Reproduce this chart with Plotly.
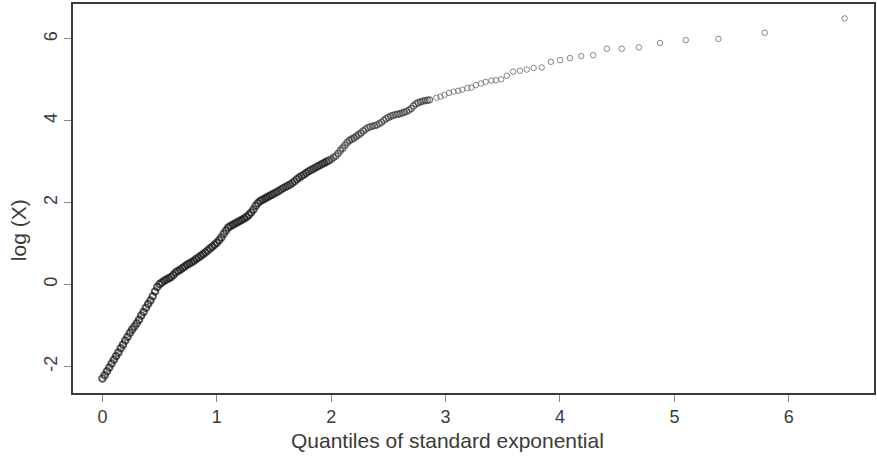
import plotly.graph_objects as go

# Quantiles of standard exponential (x) and log(X) (y)
quantiles = [
    0.00, 0.02, 0.04, 0.06, 0.08, 0.10, 0.12, 0.14, 0.16, 0.18,
    0.20, 0.22, 0.24, 0.26, 0.28, 0.30, 0.32, 0.34, 0.36, 0.38,
    0.40, 0.42, 0.44, 0.46, 0.48, 0.50, 0.52, 0.54, 0.56, 0.58,
    0.60, 0.62, 0.64, 0.66, 0.68, 0.70, 0.72, 0.74, 0.76, 0.78,
    0.80, 0.82, 0.84, 0.86, 0.88, 0.90, 0.92, 0.94, 0.96, 0.98,
    1.00, 1.02, 1.04, 1.06, 1.08, 1.10, 1.12, 1.14, 1.16, 1.18,
    1.20, 1.22, 1.24, 1.26, 1.28, 1.30, 1.32, 1.34, 1.36, 1.38,
    1.40, 1.42, 1.44, 1.46, 1.48, 1.50, 1.52, 1.54, 1.56, 1.58,
    1.60, 1.62, 1.64, 1.66, 1.68, 1.70, 1.72, 1.74, 1.76, 1.78,
    1.80, 1.82, 1.84, 1.86, 1.88, 1.90, 1.92, 1.94, 1.96, 1.98,
    2.00, 2.02, 2.04, 2.06, 2.08, 2.10, 2.12, 2.14, 2.16, 2.18,
    2.20, 2.22, 2.24, 2.26, 2.28, 2.30, 2.32, 2.34, 2.36, 2.38,
    2.40, 2.42, 2.44, 2.46, 2.48, 2.50, 2.52, 2.54, 2.56, 2.58,
    2.60, 2.62, 2.64, 2.66, 2.68, 2.70, 2.72, 2.74, 2.76, 2.78,
    2.80, 2.82, 2.84, 2.86, 2.92, 2.955, 2.99, 3.03, 3.07, 3.11,
    3.146, 3.19, 3.225, 3.265, 3.31, 3.35, 3.40, 3.44, 3.486, 3.535,
    3.59, 3.65, 3.71, 3.77, 3.84, 3.92, 4.00, 4.087, 4.186, 4.29,
    4.41, 4.54, 4.69, 4.874, 5.10, 5.385, 5.79, 6.488,
]

log_x = [
    -2.30, -2.22, -2.12, -2.03, -1.93, -1.84, -1.75, -1.66, -1.56, -1.47,
    -1.37, -1.28, -1.18, -1.10, -1.03, -0.95, -0.86, -0.76, -0.67, -0.57,
    -0.48, -0.39, -0.29, -0.17, -0.06, 0.01, 0.05, 0.09, 0.12, 0.15,
    0.18, 0.23, 0.29, 0.33, 0.36, 0.40, 0.44, 0.48, 0.51, 0.54,
    0.58, 0.62, 0.66, 0.70, 0.74, 0.78, 0.83, 0.88, 0.92, 0.97,
    1.02, 1.08, 1.15, 1.24, 1.32, 1.39, 1.43, 1.46, 1.49, 1.52,
    1.55, 1.58, 1.61, 1.65, 1.70, 1.76, 1.83, 1.92, 1.99, 2.04,
    2.07, 2.10, 2.13, 2.16, 2.19, 2.22, 2.25, 2.28, 2.32, 2.35,
    2.38, 2.41, 2.44, 2.48, 2.52, 2.57, 2.61, 2.65, 2.68, 2.72,
    2.76, 2.79, 2.82, 2.85, 2.88, 2.91, 2.94, 2.97, 3.00, 3.03,
    3.06, 3.10, 3.14, 3.20, 3.27, 3.33, 3.40, 3.47, 3.52, 3.55,
    3.58, 3.62, 3.66, 3.70, 3.75, 3.79, 3.83, 3.85, 3.87, 3.88,
    3.90, 3.93, 3.96, 4.01, 4.05, 4.08, 4.11, 4.13, 4.15, 4.16,
    4.17, 4.19, 4.21, 4.23, 4.26, 4.30, 4.36, 4.41, 4.44, 4.46,
    4.48, 4.49, 4.50, 4.51, 4.56, 4.59, 4.63, 4.68, 4.71, 4.73,
    4.76, 4.80, 4.81, 4.87, 4.91, 4.95, 4.98, 4.99, 5.01, 5.10,
    5.20, 5.22, 5.25, 5.29, 5.30, 5.44, 5.48, 5.53, 5.58, 5.60,
    5.76, 5.76, 5.79, 5.90, 5.97, 6.00, 6.15, 6.50,
]

x_ticks = [0, 1, 2, 3, 4, 5, 6]
y_ticks = [-2, 0, 2, 4, 6]

FONT = "Liberation Sans, Arial, sans-serif"

# style: in the picture the many overlapping circles of the lower quantiles
# form a dark, thick band, while the upper tail shows lighter single circles
line_w = [2.0 if q < 1.5 else (1.6 if q < 2.3 else (1.3 if q < 2.9 else 1.0)) for q in quantiles]
colors = ["#151515" if q < 2.0 else ("#3a3a3a" if q < 2.9 else "#555555") for q in quantiles]
sizes = [6.5 if q < 2.0 else (6 if q < 2.9 else 5.5) for q in quantiles]

fig = go.Figure()
fig.add_trace(go.Scatter(
    x=quantiles, y=log_x, mode="markers",
    marker=dict(symbol="circle-open", size=sizes, color=colors,
                line=dict(width=line_w, color=colors)),
    showlegend=False, hoverinfo="skip",
))

fig.update_layout(
    width=877, height=464,
    margin=dict(l=73, r=1, t=4, b=71),
    paper_bgcolor="white", plot_bgcolor="white",
    font=dict(family=FONT, size=18, color="#333333"),
    xaxis=dict(
        range=[-0.257, 6.745], tickvals=x_ticks, ticktext=[str(v) for v in x_ticks],
        showgrid=False, zeroline=False,
        showline=True, mirror=True, linecolor="#3a3a3a", linewidth=1.5,
        ticks="outside", ticklen=7, tickcolor="#888888", tickwidth=1,
        tickfont=dict(family=FONT, size=18, color="#3a3a3a"),
    ),
    yaxis=dict(
        range=[-2.652, 6.852], tickvals=y_ticks, ticktext=[str(v) for v in y_ticks],
        showgrid=False, zeroline=False,
        showline=True, mirror=True, linecolor="#3a3a3a", linewidth=1.5,
        ticks="outside", ticklen=7, tickcolor="#888888", tickwidth=1,
        tickangle=-90,
        tickfont=dict(family=FONT, size=18, color="#3a3a3a"),
    ),
    annotations=[
        dict(text="Quantiles of standard exponential", xref="paper", yref="paper",
             x=(448 - 73) / 803, y=-(440 - 393) / 389, xanchor="center", yanchor="middle",
             showarrow=False, font=dict(family=FONT, size=21, color="#3a3a3a")),
        dict(text="log (X)", xref="paper", yref="paper", textangle=-90,
             x=-(73 - 18) / 803, y=(393 - 230) / 389, xanchor="center", yanchor="middle",
             showarrow=False, font=dict(family=FONT, size=21, color="#3a3a3a")),
    ],
)

fig.write_html("out.html")
